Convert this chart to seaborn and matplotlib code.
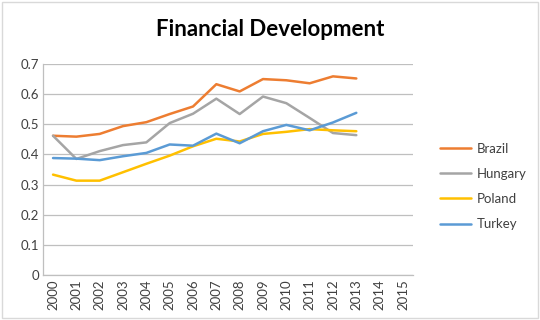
import pandas as pd
import seaborn as sns
import matplotlib.pyplot as plt
from matplotlib.patches import Rectangle

years = list(range(2000, 2016))
brazil = [0.462, 0.459, 0.468, 0.494, 0.507, 0.534, 0.559, 0.633, 0.609, 0.650, 0.646, 0.636, 0.659, 0.652]
hungary = [0.462, 0.385, 0.411, 0.431, 0.440, 0.504, 0.535, 0.585, 0.534, 0.592, 0.570, 0.521, 0.471, 0.464]
poland = [0.333, 0.313, 0.313, 0.341, 0.369, 0.396, 0.427, 0.452, 0.443, 0.468, 0.475, 0.484, 0.480, 0.477]
turkey = [0.388, 0.386, 0.381, 0.394, 0.405, 0.433, 0.429, 0.469, 0.437, 0.477, 0.498, 0.480, 0.506, 0.538]
series = {"Brazil": brazil, "Hungary": hungary, "Poland": poland, "Turkey": turkey}
colors = {"Brazil": "#ED7D31", "Hungary": "#A5A5A5", "Poland": "#FFC000", "Turkey": "#5B9BD5"}

rows = []
for name, vals in series.items():
    for y, v in zip(years, vals):
        rows.append({"Year": y, "Value": v, "Country": name})
df = pd.DataFrame(rows)

sns.set_theme(style="white")
plt.rcParams["font.family"] = ["Lato", "DejaVu Sans"]

fig = plt.figure(figsize=(5.4, 3.2), dpi=100)
ax = fig.add_axes([43/540, 1 - 275/320, 370/540, 211/320])

sns.lineplot(data=df, x="Year", y="Value", hue="Country", palette=colors,
             linewidth=1.8, ax=ax)

ax.set_xlim(1999.57, 2015.43)
ax.set_ylim(0, 0.7)
ax.set_xticks(years)
ax.set_xticklabels([str(y) for y in years], rotation=90, fontsize=9.5, color="#404040")
ax.set_yticks([0, 0.1, 0.2, 0.3, 0.4, 0.5, 0.6, 0.7])
ax.set_yticklabels(["0", "0.1", "0.2", "0.3", "0.4", "0.5", "0.6", "0.7"], fontsize=9.5, color="#404040")
ax.tick_params(axis="both", length=0, pad=3)
ax.yaxis.grid(True, color="#BFBFBF", linewidth=0.9)
ax.set_axisbelow(True)
ax.set_xlabel("")
ax.set_ylabel("")
for s in ["top", "right"]:
    ax.spines[s].set_visible(False)
for s in ["left", "bottom"]:
    ax.spines[s].set_color("#BFBFBF")
    ax.spines[s].set_linewidth(0.9)

leg = ax.legend(loc="center left", bbox_to_anchor=(1.04, 0.42), frameon=False,
                fontsize=9.5, handlelength=2.4, labelspacing=1.0, handletextpad=0.4)
for t in leg.get_texts():
    t.set_color("#404040")

fig.text(0.5, 1 - 30/320, "Financial Development", ha="center", va="center",
         fontsize=16, fontweight="bold", color="#000000")

fig.patches.append(Rectangle((0.003, 0.005), 0.994, 0.99, transform=fig.transFigure,
                             fill=False, edgecolor="#D9D9D9", linewidth=1))

fig.savefig("out.png", dpi=100)
